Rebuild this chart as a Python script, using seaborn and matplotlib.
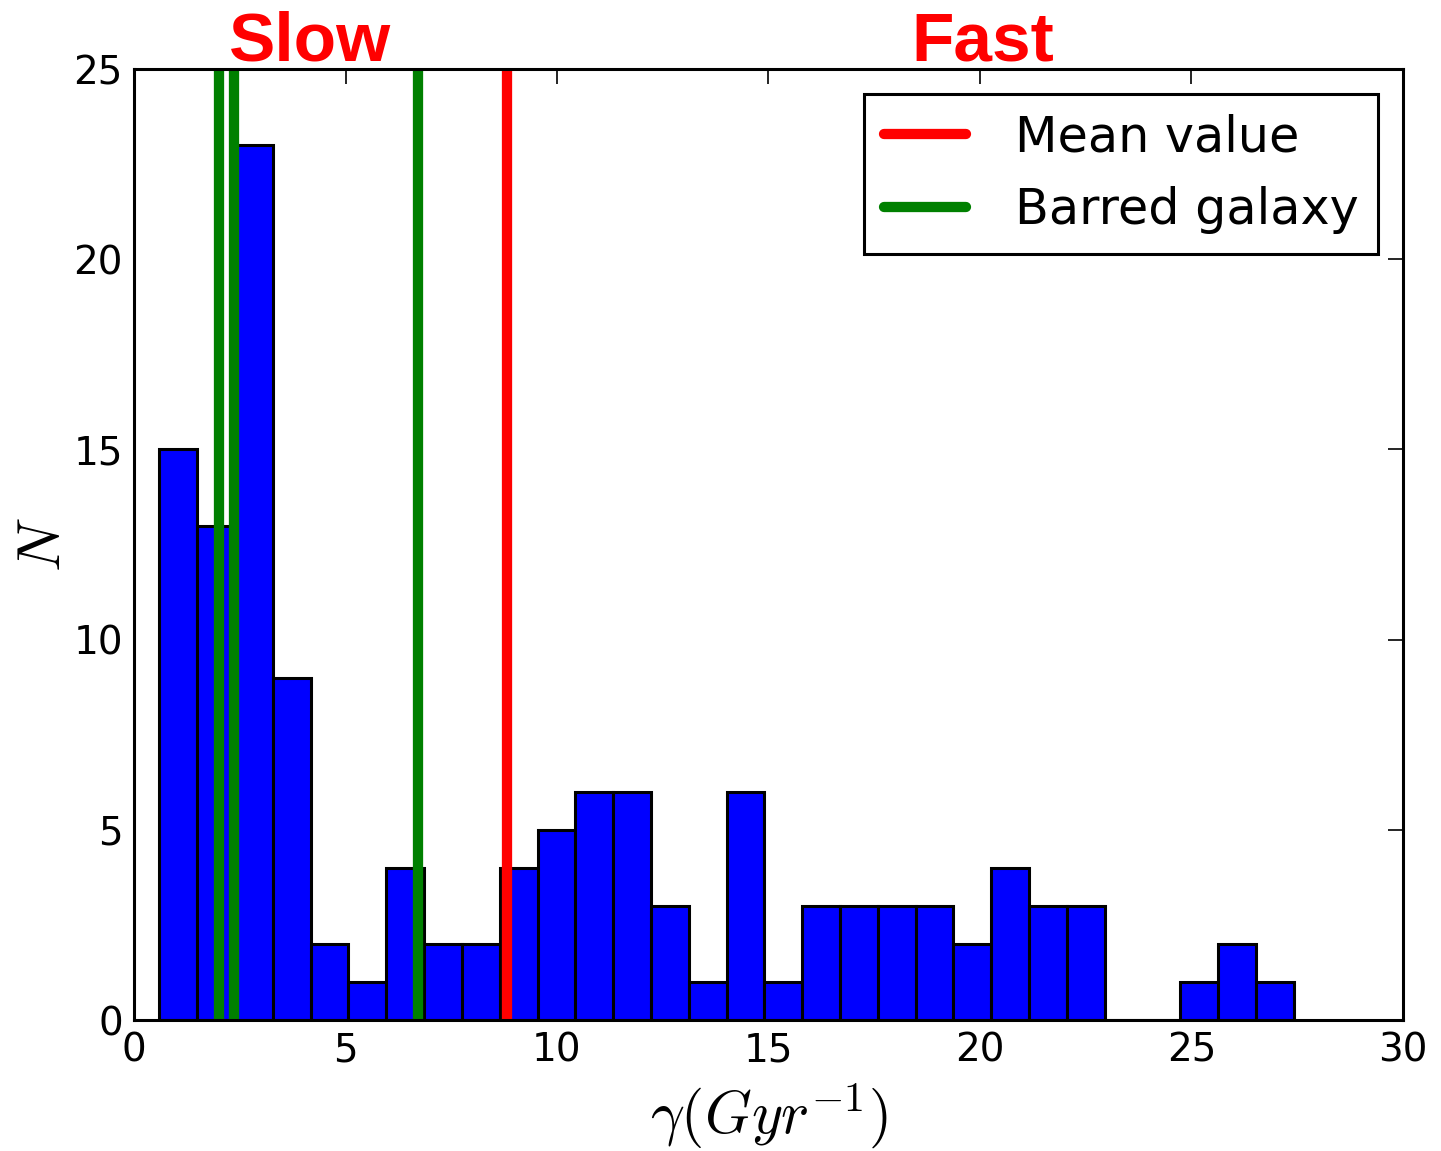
import numpy as np
import pandas as pd
import matplotlib
matplotlib.use("Agg")
import matplotlib.pyplot as plt
import seaborn as sns

# ---- data ----
bin_start = 0.60
bin_width = 0.894
counts = [15, 13, 23, 9, 2, 1, 4, 2, 2, 4, 5, 6, 6, 3, 1, 6, 1, 3, 3, 3,
          3, 2, 4, 3, 3, 0, 0, 1, 2, 1]
mean_value = 8.82
barred_values = [2.02, 2.36, 6.71]
region_labels = ["Slow", "Fast"]
region_x = [4.16, 20.07]
legend_labels = ["Mean value", "Barred galaxy"]
x_ticks = [0, 5, 10, 15, 20, 25, 30]
y_ticks = [0, 5, 10, 15, 20, 25]

edges = [float(bin_start + bin_width * k) for k in range(len(counts) + 1)]
centers = [(edges[k] + edges[k + 1]) / 2 for k in range(len(counts))]
df = pd.DataFrame({"gamma": centers, "n": counts})

sns.set_style("white")
plt.rcParams["font.family"] = ["DejaVu Sans"]
plt.rcParams["mathtext.fontset"] = "cm"
plt.rcParams["xtick.direction"] = "in"
plt.rcParams["ytick.direction"] = "in"
for k in ["text.color", "axes.labelcolor", "xtick.color", "ytick.color"]:
    plt.rcParams[k] = "black"

fig = plt.figure(figsize=(14.41, 11.51), dpi=100)
ax = fig.add_axes([0.093, 0.1138, 0.8806, 0.8262])

sns.histplot(data=df, x="gamma", weights="n", bins=edges, ax=ax,
             color="#0000ff", alpha=1.0, edgecolor="black", linewidth=2.2)

ax.axvline(mean_value, color="#ff0000", lw=7.4, label=legend_labels[0])
for i, v in enumerate(barred_values):
    ax.axvline(v, color="#008000", lw=7.4,
               label=legend_labels[1] if i == 0 else None)

ax.set_xlim(0, 30)
ax.set_ylim(0, 25)
ax.set_xticks(x_ticks)
ax.set_yticks(y_ticks)
ax.tick_params(axis="both", which="major", labelsize=28, length=11, width=1.2,
               top=True, right=True, direction="in", pad=8, colors="black")
for s in ax.spines.values():
    s.set_linewidth(2.2)
    s.set_color("black")

ax.set_xlabel(r"$\gamma(Gyr^{-1})$", fontsize=43, labelpad=9, color="black")
ax.set_ylabel(r"$N$", fontsize=43, labelpad=0, color="black")

trans = matplotlib.transforms.blended_transform_factory(ax.transData, ax.transAxes)
for lab, xv in zip(region_labels, region_x):
    ax.text(xv, 1.009, lab, transform=trans, ha="center", va="baseline",
            color="#ff0000", fontsize=50, fontweight="heavy",
            family="Liberation Sans")

leg = ax.legend(loc="upper right", fontsize=35.5, frameon=True, fancybox=False,
                handlelength=1.65, handletextpad=1.0, borderpad=0.4,
                labelspacing=0.5, borderaxespad=0.5)
leg.get_frame().set_edgecolor("black")
leg.get_frame().set_linewidth(2.2)
leg.get_frame().set_alpha(1)
for t in leg.get_texts():
    t.set_color("black")

fig.savefig("out.png", dpi=100)
